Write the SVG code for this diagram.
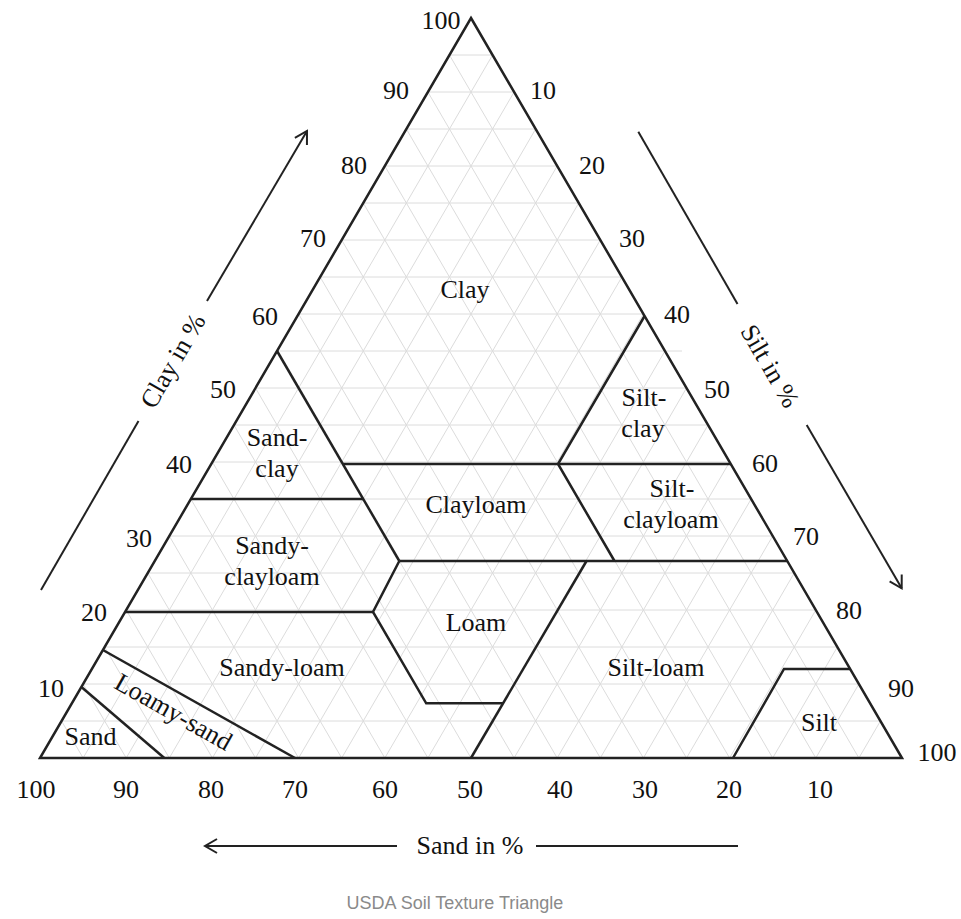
<svg xmlns="http://www.w3.org/2000/svg" width="961" height="919" viewBox="0 0 961 919">
<defs>
<style>
.grid{stroke:#dcdcdc;stroke-width:1;fill:none}
.edge{stroke:#222;stroke-width:2.5;fill:none;stroke-linejoin:miter}
.bd{stroke:#222;stroke-width:2.5;fill:none}
.ax{stroke:#222;stroke-width:2;fill:none}
text{font-family:"Liberation Serif","Times New Roman",serif;font-size:26px;fill:#111;text-anchor:middle}
.cap{font-family:"Liberation Sans",Arial,sans-serif;font-size:18px;fill:#8a8a8a}
</style>
<marker id="ah" markerUnits="userSpaceOnUse" markerWidth="30" markerHeight="30" viewBox="-15 -15 30 30" refX="0" refY="0" orient="auto"><path d="M-12,-7 L0,0 L-12,7" fill="none" stroke="#222" stroke-width="2"/></marker>
</defs>
<rect width="961" height="919" fill="#fff"/>
<g id="grid" class="grid">
<path d="M61.55,721H880.45 M83.1,684H858.9 M104.65,647H837.35 M126.2,610H815.8 M147.75,573H794.25 M169.3,536H772.7 M190.85,499H751.15 M212.4,462H729.6 M233.95,425H708.05 M255.5,388H686.5 M277.05,351H682 M298.6,314H643.4 M320.15,277H621.85 M341.7,240H600.3 M363.25,203H578.75 M384.8,166H557.2 M406.35,129H535.65 M427.9,92H514.1 M449.45,55H492.55"/>
<path d="M83.1,758L492.55,55 M126.2,758L514.1,92 M169.3,758L535.65,129 M212.4,758L557.2,166 M255.5,758L578.75,203 M298.6,758L600.3,240 M341.7,758L621.85,277 M384.8,758L643.4,314 M427.9,758L664.95,351 M471,758L686.5,388 M514.1,758L708.05,425 M557.2,758L729.6,462 M600.3,758L751.15,499 M643.4,758L772.7,536 M686.5,758L794.25,573 M729.6,758L815.8,610 M772.7,758L837.35,647 M815.8,758L858.9,684 M858.9,758L880.45,721"/>
<path d="M858.9,758L449.45,55 M815.8,758L427.9,92 M772.7,758L406.35,129 M729.6,758L384.8,166 M686.5,758L363.25,203 M643.4,758L341.7,240 M600.3,758L320.15,277 M557.2,758L298.6,314 M514.1,758L277.05,351 M471,758L255.5,388 M427.9,758L233.95,425 M384.8,758L212.4,462 M341.7,758L190.85,499 M298.6,758L169.3,536 M255.5,758L147.75,573 M212.4,758L126.2,610 M169.3,758L104.65,647 M126.2,758L83.1,684 M83.1,758L61.55,721"/>
</g>
<g id="boundaries" class="bd">
<path d="M277.05,351 L399.3,561"/>
<path d="M342.9,464 H730.8"/>
<path d="M190.85,499 H363.2"/>
<path d="M644.6,316 L558,464 L614.5,561"/>
<path d="M399.3,561 H787.3"/>
<path d="M399.3,561 L373,612 L426.2,703.3 H503"/>
<path d="M125,612 H373"/>
<path d="M586.5,561 L471,758"/>
<path d="M733,758 L784,669 H850.2"/>
<path d="M102.9,650 L295,758"/>
<path d="M81.4,687 L164.3,758"/>
</g>
<g id="outline"><path class="edge" d="M471,18 L902,758 L40,758 Z"/></g>
<g id="regions">
<g id="r-clay"><text x="465" y="298">Clay</text></g>
<g id="r-sandclay"><text x="277" y="446">Sand-</text><text x="277" y="477">clay</text></g>
<g id="r-sandyclayloam"><text x="272" y="554">Sandy-</text><text x="272" y="585">clayloam</text></g>
<g id="r-clayloam"><text x="476" y="513">Clayloam</text></g>
<g id="r-siltclay"><text x="644" y="406">Silt-</text><text x="643" y="437">clay</text></g>
<g id="r-siltclayloam"><text x="672" y="497">Silt-</text><text x="671" y="528">clayloam</text></g>
<g id="r-loam"><text x="476" y="631">Loam</text></g>
<g id="r-sandyloam"><text x="282" y="676">Sandy-loam</text></g>
<g id="r-siltloam"><text x="656" y="676">Silt-loam</text></g>
<g id="r-loamysand"><text x="169.3" y="719.4" transform="rotate(29.5 169.3 719.4)">Loamy-sand</text></g>
<g id="r-sand"><text x="90.5" y="745">Sand</text></g>
<g id="r-silt"><text x="819" y="731">Silt</text></g>
</g>
<g id="clay-ticks">
<text x="441" y="29">100</text><text x="396" y="99">90</text><text x="354" y="174">80</text><text x="313" y="247">70</text><text x="265" y="325">60</text><text x="223" y="398">50</text><text x="179" y="473">40</text><text x="139" y="547">30</text><text x="94" y="621">20</text><text x="51" y="697">10</text>
</g>
<g id="silt-ticks">
<text x="543" y="99">10</text><text x="592" y="174">20</text><text x="632" y="247">30</text><text x="677" y="323">40</text><text x="717" y="398">50</text><text x="765" y="472">60</text><text x="806" y="545">70</text><text x="849" y="619">80</text><text x="901" y="697">90</text><text x="937" y="761">100</text>
</g>
<g id="sand-ticks">
<text x="36" y="798">100</text><text x="126" y="798">90</text><text x="211" y="798">80</text><text x="295" y="798">70</text><text x="385" y="798">60</text><text x="470" y="798">50</text><text x="560" y="798">40</text><text x="645" y="798">30</text><text x="729" y="798">20</text><text x="820" y="798">10</text>
</g>
<g id="axes">
<path class="ax" d="M41,590 L138.5,421"/>
<path class="ax" d="M207,301 L307,131" marker-end="url(#ah)"/>
<text x="180.3" y="365.3" transform="rotate(-59.8 180.3 365.3)">Clay in %</text>
<path class="ax" d="M638.3,131.7 L737.5,304"/>
<path class="ax" d="M806.7,425 L901.7,588.3" marker-end="url(#ah)"/>
<text x="762.6" y="370.3" transform="rotate(59.8 762.6 370.3)">Silt in %</text>
<path class="ax" d="M397,846 L205,846" marker-end="url(#ah)"/>
<path class="ax" d="M536,846 L738,846"/>
<text x="470" y="854">Sand in %</text>
</g>
<text class="cap" x="455" y="909">USDA Soil Texture Triangle</text>
</svg>
